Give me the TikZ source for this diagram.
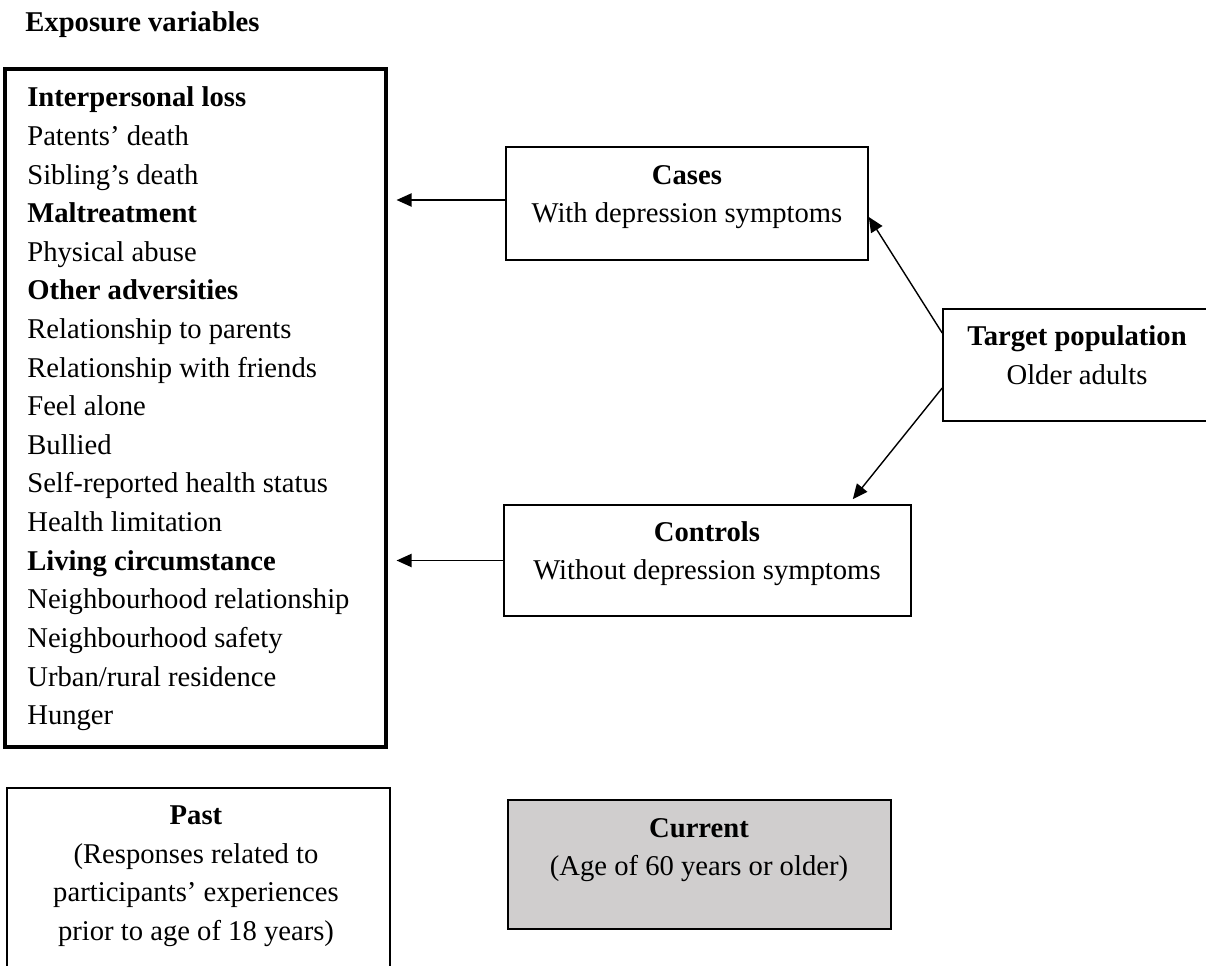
\documentclass[tikz,border=0pt]{standalone}
\usepackage{fontspec}
\setmainfont{Liberation Serif}
\usetikzlibrary{arrows.meta}
\definecolor{nowgray}{HTML}{D0CECE}

\begin{document}
\begin{tikzpicture}[
  every node/.style={font=\fontsize{16.3}{21.9}\selectfont},
  boxline/.style={rectangle, draw, line width=0.9pt, inner sep=0pt},
  bigbox/.style={rectangle, draw, line width=1.8pt, inner sep=0pt},
  txt/.style={inner sep=0pt, align=center, anchor=north},
  listitem/.style={inner sep=0pt, anchor=base west},
  link/.style={->, line width=0.8pt},
  >={Triangle[length=8.5pt,width=7.5pt]}
]
\useasboundingbox (0,0) rectangle (24.12,-19.32);

\node[listitem] (title) at (0.50,-0.64) {\textbf{Exposure variables}};

\node[bigbox, minimum width=7.62cm, minimum height=13.56cm] (list) at (3.91,-8.16) {};
\foreach \t [count=\i] in {\textbf{Interpersonal loss}, Patents’ death, Sibling’s death,
  \textbf{Maltreatment}, Physical abuse, \textbf{Other adversities},
  Relationship to parents, Relationship with friends, Feel alone, Bullied,
  Self-reported health status, Health limitation, \textbf{Living circumstance},
  Neighbourhood relationship, Neighbourhood safety, Urban/rural residence, Hunger}
  { \node[listitem] (e\i) at (0.54,{-2.14-0.772*(\i-1)}) {\t}; }

\node[boxline, minimum width=7.24cm, minimum height=2.26cm] (cases) at (13.74,-4.07) {};
\node[txt] (cases-t) at (13.74,-3.30) {\textbf{Cases}\\With depression symptoms};

\node[boxline, minimum width=8.14cm, minimum height=2.22cm] (controls) at (14.15,-11.21) {};
\node[txt] (controls-t) at (14.14,-10.42) {\textbf{Controls}\\Without depression symptoms};

\node[boxline, minimum width=5.44cm, minimum height=2.24cm] (target) at (21.58,-7.30) {};
\node[txt] (target-t) at (21.54,-6.51) {\textbf{Target population}\\Older adults};

\node[boxline, minimum width=7.66cm, minimum height=3.84cm] (past) at (3.97,-17.68) {};
\node[txt] (past-t) at (3.92,-16.11) {\textbf{Past}\\(Responses related to\\participants’ experiences\\prior to age of 18 years)};

\node[boxline, fill=nowgray, minimum width=7.66cm, minimum height=2.58cm] (current) at (13.99,-17.29) {};
\node[txt] (current-t) at (13.98,-16.36) {\textbf{Current}\\(Age of 60 years or older)};

% arrows
\coordinate (cases-out) at ([yshift=0.07cm]cases.west);
\draw[link, shorten >=0.18cm] (cases-out) -- (cases-out -| list.east);
\draw[link, shorten >=0.18cm] (controls.west) -- (controls.west -| list.east);
\draw[link] ([yshift=0.64cm]target.west) -- ([yshift=-0.27cm]cases.east);
\draw[link] ([yshift=-0.46cm]target.west) -- ([xshift=-1.18cm,yshift=0.1cm]controls.north east);
\end{tikzpicture}
\end{document}
